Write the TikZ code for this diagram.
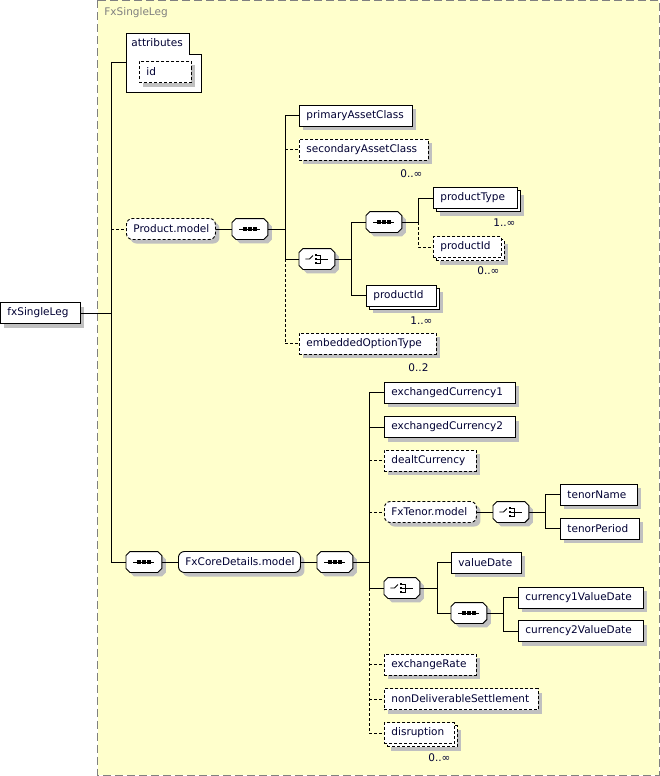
\documentclass[tikz,border=0pt]{standalone}
\usepackage{fontspec}
\setmainfont{DejaVu Sans}
\usetikzlibrary{shadows}
\definecolor{bgy}{HTML}{FFFFCC}
\definecolor{shd}{HTML}{C0C0C0}
\definecolor{frm}{HTML}{808080}
\definecolor{txt}{HTML}{000033}
\newcommand\octa[1]{%
  \draw[fill=white,sh] ([shift={(4,0)}]#1.north west) -- ([shift={(-4,0)}]#1.north east)
    -- ([shift={(0,4)}]#1.north east) -- ([shift={(0,-4)}]#1.south east)
    -- ([shift={(-4,0)}]#1.south east) -- ([shift={(4,0)}]#1.south west)
    -- ([shift={(0,-4)}]#1.south west) -- ([shift={(0,4)}]#1.north west) -- cycle;}
\newcommand\seqmark[1]{%
  \octa{#1}%
  \draw ([xshift=-10.5pt]#1.center) -- ([xshift=10.5pt]#1.center);
  \foreach \dx in {-5,0,5}
    \fill ([shift={(\dx-1.7,-1.7)}]#1.center) rectangle ([shift={(\dx+1.7,1.7)}]#1.center);}
\newcommand\choicemark[1]{%
  \octa{#1}%
  \draw ([shift={(-11.5,0)}]#1.center) -- ([shift={(-7.5,0)}]#1.center) -- ([shift={(-4,-3.5)}]#1.center);
  \foreach \dy in {-4,0,4}
    \fill ([shift={(-2.3,\dy-1.3)}]#1.center) rectangle ([shift={(0.3,\dy+1.3)}]#1.center);
  \draw ([shift={(0,-4)}]#1.center) -- ([shift={(3,-4)}]#1.center) -- ([shift={(3,4)}]#1.center) -- ([shift={(0,4)}]#1.center);
  \draw ([shift={(0,0)}]#1.center) -- ([shift={(11,0)}]#1.center);}
\begin{document}
\begin{tikzpicture}[x=1pt,y=-1pt,line width=0.9pt,
  every node/.style={font=\fontsize{10.5}{12}\selectfont,text=txt},
  elem/.style={draw=black,fill=white,minimum height=21pt,inner ysep=0pt,inner xsep=7pt,anchor=west,align=left},
  sh/.style={drop shadow={shadow xshift=4pt,shadow yshift=-4pt,fill=shd,opacity=1}},
  mshs/.style={drop shadow={shadow xshift=7pt,shadow yshift=-7pt,fill=shd,opacity=1},copy shadow={shadow xshift=3pt,shadow yshift=-3pt,fill=white,draw=black}},
  mshd/.style={drop shadow={shadow xshift=7pt,shadow yshift=-7pt,fill=shd,opacity=1},copy shadow={shadow xshift=3pt,shadow yshift=-3pt,fill=white,draw=black,dash pattern=on 3pt off 2pt}},
  dsh/.style={dash pattern=on 3pt off 2pt},
  grp/.style={elem,rounded corners=6pt},
  comp/.style={draw=none,fill=none,rectangle,minimum width=35pt,minimum height=20pt,inner sep=0pt,anchor=west},
  card/.style={anchor=east,inner sep=0pt},
]
\useasboundingbox (0,0) rectangle (660,776);
% frame
\draw[frm,fill=bgy,dash pattern=on 8pt off 4pt] (97.5,0.5) rectangle (659,775);
\node[text=frm,anchor=west,inner sep=0pt] (title) at (104,13) {FxSingleLeg};

% root
\node[elem,sh,text width=66pt] (fx) at (0,313) {fxSingleLeg};

% attributes
\draw[fill=white] (126,33) -- (189,33) -- (189,54) -- (201,54) -- (201,92) -- (126,92) -- cycle;
\node[anchor=west,inner sep=0pt] (attr) at (131,43) {attributes};
\coordinate (attrL) at (126,62);
\node[elem,sh,dsh,text width=38pt] (id) at (139,72) {id};

% Product.model branch
\node[grp,sh,dsh,text width=75pt] (pm) at (126,229) {Product.model};
\node[comp] (sq1) at (232,229) {};
\node[elem,sh,text width=99pt] (pac) at (299,115.5) {primaryAssetClass};
\node[elem,sh,dsh,text width=115pt] (sac) at (299,149.5) {secondaryAssetClass};
\node[card] at ([shift={(-6,13)}]sac.south east) {0..∞};
\node[comp] (ch1) at (299,259) {};
\node[comp] (sq2) at (366,222) {};
\node[elem,mshs,text width=70pt] (pt) at (433,198) {productType};
\node[card] at ([shift={(-2,14)}]pt.south east) {1..∞};
\node[elem,mshd,dsh,text width=54pt] (pid1) at (433,247) {productId};
\node[card] at ([shift={(-2,13)}]pid1.south east) {0..∞};
\node[elem,mshs,text width=56pt] (pid2) at (366,295.5) {productId};
\node[card] at ([shift={(-4,14)}]pid2.south east) {1..∞};
\node[elem,sh,dsh,text width=123pt] (eot) at (299,343.5) {embeddedOptionType};
\node[card] at ([shift={(-8,13)}]eot.south east) {0..2};

% FxCoreDetails branch
\node[comp] (sqo) at (126,562) {};
\node[grp,sh,text width=108pt] (fcd) at (178,562) {FxCoreDetails.model};
\node[comp] (sqc) at (317,562) {};
\node[elem,sh,text width=117pt] (ec1) at (384,392.5) {exchangedCurrency1};
\node[elem,sh,text width=117pt] (ec2) at (384,427) {exchangedCurrency2};
\node[elem,sh,dsh,text width=78pt] (dc) at (384,460.5) {dealtCurrency};
\node[grp,sh,dsh,text width=78pt] (ftm) at (384,512) {FxTenor.model};
\node[comp] (chT) at (493,512) {};
\node[elem,sh,text width=63pt] (tn) at (560,494.5) {tenorName};
\node[elem,sh,text width=65pt] (tp) at (560,528.5) {tenorPeriod};
\node[comp] (chV) at (384,588) {};
\node[elem,sh,text width=56pt] (vd) at (451,562.5) {valueDate};
\node[comp] (sqV) at (451,613) {};
\node[elem,sh,text width=111pt] (c1) at (518,597.5) {currency1ValueDate};
\node[elem,sh,text width=111pt] (c2) at (518,631) {currency2ValueDate};
\node[elem,sh,dsh,text width=78pt] (er) at (384,664.5) {exchangeRate};
\node[elem,sh,dsh,text width=140pt] (nds) at (384,699) {nonDeliverableSettlement};
\node[elem,mshd,dsh,text width=56pt] (dis) at (384,733) {disruption};
\node[card] at ([shift={(-4,14)}]dis.south east) {0..∞};

% compositor shapes and glyphs
\seqmark{sq1}\seqmark{sq2}\seqmark{sqo}\seqmark{sqc}\seqmark{sqV}
\choicemark{ch1}\choicemark{chT}\choicemark{chV}

% trunk A
\coordinate (tA) at (111,313);
\draw (fx.east) -- (tA);
\draw (tA |- attrL) -- (tA |- sqo.west);
\draw (tA |- attrL) -- (attrL);
\draw[dsh] (tA |- pm.west) -- (pm.west);
\draw (tA |- sqo.west) -- (sqo.west);
% trunk B
\draw (pm.east) -- (sq1.west);
\coordinate (tB) at (285,229);
\draw (sq1.east) -- (tB);
\draw (tB |- pac.west) -- (tB |- ch1.west);
\draw[dsh] (tB |- ch1.west) -- (tB |- eot.west);
\draw (tB |- pac.west) -- (pac.west);
\draw[dsh] (tB |- sac.west) -- (sac.west);
\draw (tB |- ch1.west) -- (ch1.west);
\draw[dsh] (tB |- eot.west) -- (eot.west);
% trunk C
\coordinate (tC) at (351,259);
\draw (ch1.east) -- (tC);
\draw (tC |- sq2.west) -- (tC |- pid2.west);
\draw (tC |- sq2.west) -- (sq2.west);
\draw (tC |- pid2.west) -- (pid2.west);
% trunk D
\coordinate (tD) at (418,222);
\draw (sq2.east) -- (tD);
\draw (tD |- pt.west) -- (tD);
\draw (tD |- pt.west) -- (pt.west);
\draw[dsh] (tD) -- (tD |- pid1.west) -- (pid1.west);
% trunk E
\draw (sqo.east) -- (fcd.west);
\draw (fcd.east) -- (sqc.west);
\coordinate (tE) at (369,562);
\draw (sqc.east) -- (tE);
\draw (tE |- ec1.west) -- (tE |- chV.west);
\draw[dsh] (tE |- chV.west) -- (tE |- dis.west);
\draw (tE |- ec1.west) -- (ec1.west);
\draw (tE |- ec2.west) -- (ec2.west);
\draw[dsh] (tE |- dc.west) -- (dc.west);
\draw[dsh] (tE |- ftm.west) -- (ftm.west);
\draw (tE |- chV.west) -- (chV.west);
\draw[dsh] (tE |- er.west) -- (er.west);
\draw[dsh] (tE |- nds.west) -- (nds.west);
\draw[dsh] (tE |- dis.west) -- (dis.west);
% trunk F
\draw (ftm.east) -- (chT.west);
\coordinate (tF) at (545,512);
\draw (chT.east) -- (tF);
\draw (tF |- tn.west) -- (tF |- tp.west);
\draw (tF |- tn.west) -- (tn.west);
\draw (tF |- tp.west) -- (tp.west);
% trunk G
\coordinate (tG) at (437,588);
\draw (chV.east) -- (tG);
\draw (tG |- vd.west) -- (tG |- sqV.west);
\draw (tG |- vd.west) -- (vd.west);
\draw (tG |- sqV.west) -- (sqV.west);
% trunk H
\coordinate (tH) at (503,613);
\draw (sqV.east) -- (tH);
\draw (tH |- c1.west) -- (tH |- c2.west);
\draw (tH |- c1.west) -- (c1.west);
\draw (tH |- c2.west) -- (c2.west);
\end{tikzpicture}
\end{document}
